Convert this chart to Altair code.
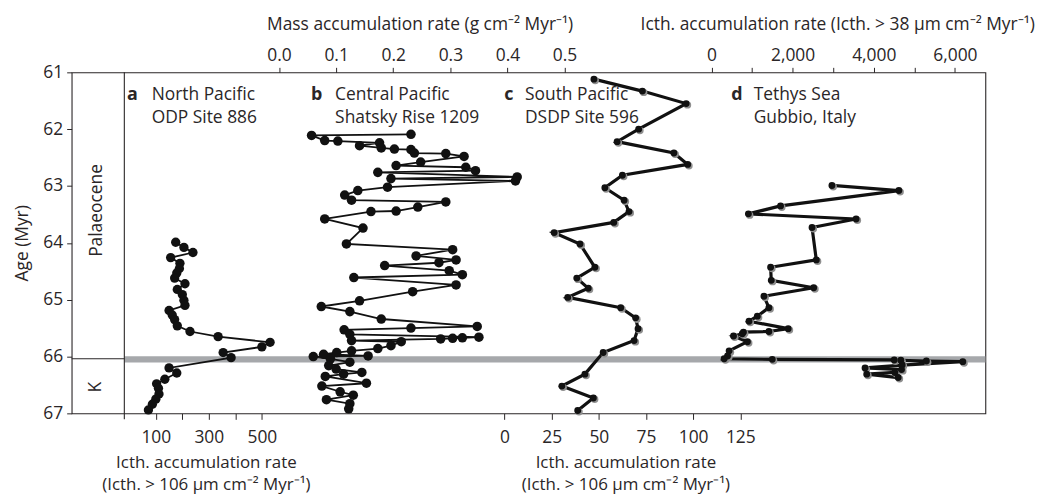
import altair as alt
import pandas as pd

W, H = 919, 343
FONT = "Open Sans"
INK = "#2a2627"
FS = 17.5

# ---- Panel a: North Pacific, ODP Site 886 (Icth. > 106 um) ----
a_age = [63.99, 64.08, 64.17, 64.26, 64.36, 64.45, 64.53, 64.62, 64.72, 64.82, 64.91,
         65.01, 65.10, 65.19, 65.27, 65.35, 65.46, 65.56, 65.65, 65.75, 65.83, 65.93,
         66.02, 66.20, 66.29, 66.40, 66.48, 66.56, 66.66, 66.75, 66.84, 66.94]
a_val = [175, 206, 240, 156, 191, 189, 179, 171, 210, 181, 200,
         206, 210, 150, 162, 171, 181, 229, 335, 531, 500, 354,
         384, 150, 179, 134, 103, 110, 112, 100, 87, 72]

# ---- Panel b: Central Pacific, Shatsky Rise 1209 (mass accumulation rate) ----
b_age = [62.09, 62.11, 62.20, 62.21, 62.24, 62.29, 62.33, 62.35, 62.36, 62.42, 62.43,
         62.48, 62.58, 62.64, 62.67, 62.73, 62.76, 62.84, 62.87, 62.91, 63.02, 63.08,
         63.16, 63.25, 63.28, 63.37, 63.44, 63.45, 63.58, 63.74, 64.02, 64.12, 64.23,
         64.30, 64.35, 64.40, 64.49, 64.56, 64.61, 64.74, 64.86, 65.02, 65.12, 65.21,
         65.34, 65.47, 65.50, 65.53, 65.61, 65.66, 65.67, 65.68, 65.69, 65.72, 65.74,
         65.81, 65.86, 65.90, 65.93, 65.96, 65.99, 66.00, 66.04, 66.10, 66.16, 66.22,
         66.28, 66.31, 66.35, 66.47, 66.52, 66.62, 66.68, 66.76, 66.83, 66.92]
b_val = [0.231, 0.057, 0.080, 0.103, 0.176, 0.141, 0.179, 0.202, 0.231, 0.237, 0.292,
         0.324, 0.248, 0.205, 0.327, 0.344, 0.173, 0.417, 0.196, 0.414, 0.190, 0.138,
         0.115, 0.127, 0.292, 0.243, 0.205, 0.161, 0.080, 0.147, 0.118, 0.304, 0.240,
         0.310, 0.280, 0.185, 0.298, 0.321, 0.131, 0.310, 0.234, 0.141, 0.074, 0.124,
         0.179, 0.347, 0.231, 0.114, 0.124, 0.350, 0.321, 0.304, 0.283, 0.127, 0.214,
         0.196, 0.173, 0.127, 0.101, 0.078, 0.156, 0.060, 0.090, 0.124, 0.087, 0.100,
         0.145, 0.113, 0.081, 0.153, 0.075, 0.107, 0.130, 0.083, 0.124, 0.122]

# ---- Panel c: South Pacific, DSDP Site 596 (Icth. > 106 um) ----
c_age = [61.12, 61.33, 61.55, 62.00, 62.22, 62.42, 62.62, 62.81, 63.03, 63.25, 63.45,
         63.64, 63.82, 64.02, 64.43, 64.62, 64.80, 64.96, 65.14, 65.32, 65.51, 65.72,
         65.93, 66.31, 66.52, 66.73, 66.95]
c_val = [47.4, 73.1, 96.3, 71.1, 59.7, 89.8, 97.1, 62.5, 53.2, 63.4, 66.0,
         57.9, 26.3, 40.0, 47.9, 38.3, 44.4, 33.5, 61.6, 69.5, 70.8, 68.7,
         52.3, 42.6, 30.4, 47.1, 38.8]

# ---- Panel d: Tethys Sea, Gubbio (Icth. > 38 um) ----
d_age = [62.99, 63.08, 63.35, 63.49, 63.58, 63.73, 64.30, 64.43, 64.66, 64.79, 64.94,
         65.14, 65.29, 65.38, 65.51, 65.56, 65.57, 65.60, 65.64, 65.74, 65.90, 65.99,
         66.04, 66.05, 66.06, 66.065, 66.08, 66.09, 66.15, 66.20, 66.23, 66.28, 66.31, 66.37]
d_val = [2969, 4618, 1703, 911, 3564, 2479, 2584, 1458, 1474, 2519, 1294,
         1416, 1131, 926, 1891, 1416, 789, 760, 544, 887, 436, 397,
         314, 1499, 4503, 4667, 5296, 6193, 4700, 3785, 4684, 4520, 3826, 4601]

KPG_AGE = 66.05

a_df = pd.DataFrame({"age": a_age, "v": a_val, "i": range(len(a_age))})
b_df = pd.DataFrame({"age": b_age, "v": b_val, "i": range(len(b_age))})
c_df = pd.DataFrame({"age": c_age, "v": c_val, "i": range(len(c_age))})
d_df = pd.DataFrame({"age": d_age, "v": d_val, "i": range(len(d_age))})

yscale = alt.Scale(domain=[61, 67], reverse=True, nice=False, zero=False)
y_axis = alt.Axis(orient="left", values=[61, 62, 63, 64, 65, 66, 67], title="Age (Myr)",
                  grid=False, domain=False, tickSize=5, labelPadding=4, titleX=-49,
                  titleY=H / 2, titleAngle=270, titleAlign="center",
                  titleBaseline="middle", format="d")

sc_a = alt.Scale(domain=[-217.5, 3228.7], nice=False, zero=False)
sc_b = alt.Scale(domain=[-0.36316, 1.23677], nice=False, zero=False)
sc_c = alt.Scale(domain=[-229.52, 254.93], nice=False, zero=False)
sc_d = alt.Scale(domain=[-15764.3, 6749.1], nice=False, zero=False)

bottom_title = ["Icth. accumulation rate", "(Icth. > 106 \u03bcm cm\u207b\u00b2 Myr\u207b\u00b9)"]
ax_a = alt.Axis(orient="bottom", values=[100, 200, 300, 400, 500],
                labelExpr="datum.value % 200 == 100 ? format(datum.value, 'd') : ''",
                title=bottom_title, titleX=135, titleY=54, titleAlign="center",
                titleBaseline="alphabetic", titleLineHeight=22.5, titleFontSize=17,
                grid=False, domain=False, tickSize=6, labelPadding=9)
ax_c = alt.Axis(orient="bottom", values=[0, 25, 50, 75, 100, 125], format="d",
                title=bottom_title, titleX=557, titleY=54, titleAlign="center",
                titleBaseline="alphabetic", titleLineHeight=22.5, titleFontSize=17,
                grid=False, domain=False, tickSize=6, labelPadding=9)
ax_b = alt.Axis(orient="top", values=[0, 0.1, 0.2, 0.3, 0.4, 0.5], format=".1f",
                title="Mass accumulation rate (g cm\u207b\u00b2 Myr\u207b\u00b9)",
                titleX=350, titleY=-43, titleAlign="center", titleBaseline="alphabetic",
                grid=False, domain=False, tickSize=5, labelPadding=3)
ax_d = alt.Axis(orient="top", values=[0, 1000, 2000, 3000, 4000, 5000, 6000],
                labelExpr="datum.value % 2000 == 0 ? format(datum.value, ',') : ''",
                title="Icth. accumulation rate (Icth. > 38 \u03bcm cm\u207b\u00b2 Myr\u207b\u00b9)",
                titleX=770, titleY=-43, titleAlign="center", titleBaseline="alphabetic",
                grid=False, domain=False, tickSize=5, labelPadding=3)


def Y():
    return alt.Y("age:Q", scale=yscale, axis=y_axis)


layers = []

# K-Pg boundary band
layers.append(alt.Chart().mark_rule(color="#a6a8ab", strokeWidth=6.5).encode(
    x=alt.value(53), x2=alt.value(W), y=alt.datum(KPG_AGE, scale=yscale, axis=y_axis)))
# stratigraphic column
layers.append(alt.Chart().mark_rule(color=INK, strokeWidth=1.1).encode(
    x=alt.value(53), y=alt.value(0), y2=alt.value(H + 6)))
layers.append(alt.Chart().mark_rule(color=INK, strokeWidth=1.1).encode(
    x=alt.value(0), x2=alt.value(53), y=alt.datum(66.04, scale=yscale, axis=y_axis)))
layers.append(alt.Chart().mark_text(text="Palaeocene", angle=270, font=FONT, fontSize=FS,
                                    color=INK, align="center", baseline="middle").encode(
    x=alt.value(26), y=alt.datum(63.43, scale=yscale, axis=y_axis)))
layers.append(alt.Chart().mark_text(text="K", angle=270, font=FONT, fontSize=FS,
                                    color=INK, align="center", baseline="middle").encode(
    x=alt.value(25), y=alt.datum(66.54, scale=yscale, axis=y_axis)))


def panel_label(letter, lx, tx, lines):
    l1 = alt.Chart().mark_text(text=letter, font=FONT, fontSize=FS + 0.5, fontWeight="bold",
                               color=INK, align="center", baseline="alphabetic").encode(
        x=alt.value(lx), y=alt.value(28))
    l2 = alt.Chart().mark_text(text=lines, font=FONT, fontSize=FS, lineHeight=23.4,
                               color=INK, align="left", baseline="alphabetic").encode(
        x=alt.value(tx), y=alt.value(28))
    return [l1, l2]


layers += panel_label("a", 61, 80.5, ["North Pacific", "ODP Site 886"])
layers += panel_label("b", 246.5, 265, ["Central Pacific", "Shatsky Rise 1209"])
layers += panel_label("c", 439.7, 456, ["South Pacific", "DSDP Site 596"])
layers += panel_label("d", 669, 686, ["Tethys Sea", "Gubbio, Italy"])

# panel a
layers.append(alt.Chart(a_df).mark_line(color="#111", strokeWidth=1.8).encode(
    x=alt.X("v:Q", scale=sc_a, axis=ax_a), y=Y(), order="i:Q"))
layers.append(alt.Chart(a_df).mark_circle(color="#111", size=88, opacity=1).encode(
    x=alt.X("v:Q", scale=sc_a, axis=None), y=Y()))

# panel b
layers.append(alt.Chart(b_df).mark_line(color="#111", strokeWidth=1.8).encode(
    x=alt.X("v:Q", scale=sc_b, axis=ax_b), y=Y(), order="i:Q"))
layers.append(alt.Chart(b_df).mark_circle(color="#111", size=92, opacity=1).encode(
    x=alt.X("v:Q", scale=sc_b, axis=None), y=Y()))

# panel c
layers.append(alt.Chart(c_df).mark_line(color="#111", strokeWidth=3.2).encode(
    x=alt.X("v:Q", scale=sc_c, axis=ax_c), y=Y(), order="i:Q"))
layers.append(alt.Chart(c_df).mark_circle(color="#8f8f8f", size=56, opacity=1,
                                          xOffset=1.3, yOffset=1.3).encode(
    x=alt.X("v:Q", scale=sc_c, axis=None), y=Y()))
layers.append(alt.Chart(c_df).mark_circle(color="#111", size=48, opacity=1).encode(
    x=alt.X("v:Q", scale=sc_c, axis=None), y=Y()))

# panel d
layers.append(alt.Chart(d_df).mark_line(color="#111", strokeWidth=3.2).encode(
    x=alt.X("v:Q", scale=sc_d, axis=ax_d), y=Y(), order="i:Q"))
layers.append(alt.Chart(d_df).mark_circle(color="#8f8f8f", size=56, opacity=1,
                                          xOffset=1.3, yOffset=1.3).encode(
    x=alt.X("v:Q", scale=sc_d, axis=None), y=Y()))
layers.append(alt.Chart(d_df).mark_circle(color="#111", size=48, opacity=1).encode(
    x=alt.X("v:Q", scale=sc_d, axis=None), y=Y()))

chart = alt.layer(*layers).resolve_scale(x="independent").properties(
    width=W, height=H,
    autosize=alt.AutoSizeParams(type="none"),
    padding={"left": 64, "top": 63.3, "right": 61, "bottom": 80},
    background="white",
).configure_view(stroke=INK, strokeWidth=1.1).configure_axis(
    labelFont=FONT, labelFontSize=FS, labelColor=INK,
    titleFont=FONT, titleFontSize=FS, titleFontWeight="normal", titleColor=INK,
    tickColor=INK, tickWidth=1,
)

chart.save("out.html", embed_options={"renderer": "svg", "actions": False})
